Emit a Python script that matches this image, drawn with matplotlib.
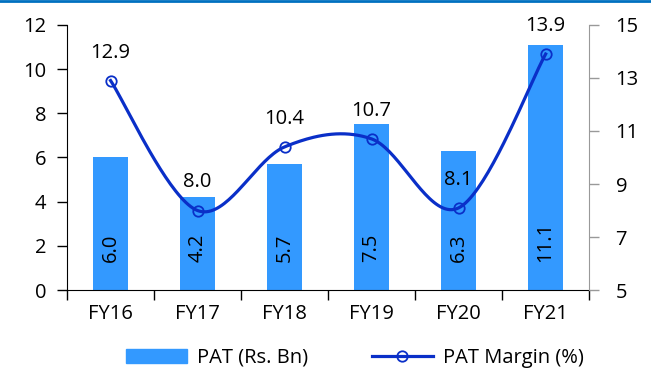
import matplotlib
matplotlib.use("Agg")
from matplotlib import pyplot as plt
from matplotlib.lines import Line2D
from matplotlib.patches import Patch
import numpy as np

plt.rcParams['font.family'] = ['Open Sans', 'DejaVu Sans']

years = ['FY16', 'FY17', 'FY18', 'FY19', 'FY20', 'FY21']
pat = [6.0, 4.2, 5.7, 7.5, 6.3, 11.1]
margin = [12.9, 8.0, 10.4, 10.7, 8.1, 13.9]

bar_color = '#3399FF'
line_color = '#0A2FC8'
fs = 14.5


def smooth(xs, ys, n=40):
    # bezier smoothing similar to spreadsheet "smoothed line"
    xs = np.asarray(xs, float)
    ys = np.asarray(ys, float)
    px, py = [], []
    for i in range(len(xs) - 1):
        x0, y0 = (xs[i - 1], ys[i - 1]) if i > 0 else (xs[i], ys[i])
        x3, y3 = (xs[i + 2], ys[i + 2]) if i + 2 < len(xs) else (xs[i + 1], ys[i + 1])
        p1 = (xs[i], ys[i])
        p2 = (xs[i + 1], ys[i + 1])
        c1 = (p1[0] + (p2[0] - x0) / 6, p1[1] + (p2[1] - y0) / 6)
        c2 = (p2[0] - (x3 - p1[0]) / 6, p2[1] - (y3 - p1[1]) / 6)
        t = np.linspace(0, 1, n)
        bx = (1-t)**3*p1[0] + 3*(1-t)**2*t*c1[0] + 3*(1-t)*t**2*c2[0] + t**3*p2[0]
        by = (1-t)**3*p1[1] + 3*(1-t)**2*t*c1[1] + 3*(1-t)*t**2*c2[1] + t**3*p2[1]
        px.extend(bx)
        py.extend(by)
    return px, py


fig = plt.figure(figsize=(6.51, 3.71), dpi=100)
ax = fig.add_axes([0.103, 0.218, 0.802, 0.715])
x = np.arange(len(years))

ax.bar(x, pat, width=0.4, color=bar_color, zorder=1)
for xi, v in zip(x, pat):
    ax.text(xi, 1.25, f'{v:.1f}', rotation=90, ha='center', va='bottom', fontsize=fs)

ax.set_xlim(-0.5, len(years) - 0.5)
ax.set_ylim(0, 12)
ax.set_yticks(range(0, 13, 2))
ax.set_xticks(x)
ax.set_xticklabels(years)
ax.set_xticks(np.arange(-0.5, len(years), 1), minor=True)
ax.tick_params(axis='x', which='major', length=0, pad=10, labelsize=fs)
ax.tick_params(axis='x', which='minor', length=7, direction='out', width=1)
ax.tick_params(axis='y', length=7, width=1, labelsize=fs, pad=8)
ax.spines['top'].set_visible(False)
ax.spines['right'].set_visible(False)

ax2 = ax.twinx()
sx, sy = smooth(x, margin)
ax2.plot(sx, sy, color=line_color, lw=2.3, zorder=3)
ax2.plot(x, margin, 'o', color=line_color, mfc='none', mew=1.3, ms=7.5, zorder=4)
for xi, v in zip(x, margin):
    ax2.annotate(f'{v:.1f}', (xi, v), xytext=(0, 13), textcoords='offset points',
                 ha='center', va='bottom', fontsize=fs)
ax2.set_ylim(5, 15)
ax2.set_yticks(range(5, 16, 2))
ax2.tick_params(axis='y', length=7, width=1, color='#999999', labelsize=fs, pad=12)
for s in ['top', 'left', 'bottom']:
    ax2.spines[s].set_visible(False)
ax2.spines['right'].set_color('#999999')

handles = [Patch(color=bar_color, label='PAT (Rs. Bn)'),
           Line2D([], [], color=line_color, lw=2.3, marker='o', mfc='none',
                  mew=1.3, ms=7.5, label='PAT Margin (%)')]
fig.legend(handles=handles, loc='lower center', bbox_to_anchor=(0.545, -0.04), ncol=2,
           frameon=False, fontsize=fs, handlelength=3.0, handletextpad=0.5,
           columnspacing=3.2)

fig.add_artist(Line2D([0, 1], [0.997, 0.997], transform=fig.transFigure,
                      color='#0070C0', lw=2))

fig.savefig('out.png', dpi=100)
